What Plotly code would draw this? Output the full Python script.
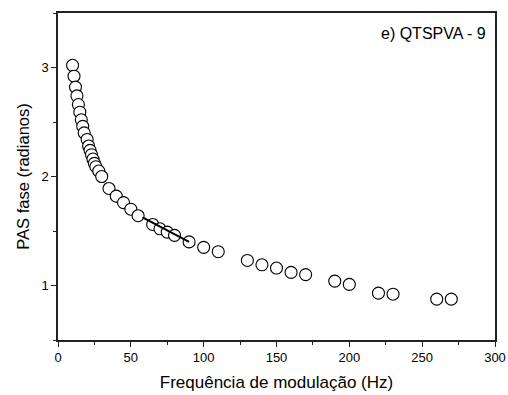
import plotly.graph_objects as go

# Modulation frequency (Hz) and photoacoustic phase (rad)
freq = [10, 11, 12, 13, 14, 15, 16, 17, 18, 20, 21, 22, 23, 24, 25, 26, 28, 30,
        35, 40, 45, 50, 55, 65, 70, 75, 80, 90, 100, 110, 130, 140, 150, 160,
        170, 190, 200, 220, 230, 260, 270]
phase = [3.02, 2.92, 2.82, 2.74, 2.66, 2.59, 2.52, 2.46, 2.40, 2.34, 2.28, 2.24,
         2.20, 2.16, 2.12, 2.09, 2.05, 2.00, 1.89, 1.82, 1.76, 1.70, 1.64, 1.56,
         1.52, 1.49, 1.46, 1.40, 1.35, 1.31, 1.23, 1.19, 1.16, 1.12, 1.10, 1.04,
         1.01, 0.93, 0.92, 0.875, 0.875]

# Linear fit segment over the intermediate frequency region
fit_freq = [58, 90]
fit_phase = [1.625, 1.40]

x_ticks = [0, 50, 100, 150, 200, 250, 300]
y_ticks = [1, 2, 3]

font_family = "Arial, Liberation Sans, sans-serif"

fig = go.Figure()
fig.add_trace(go.Scatter(
    x=freq, y=phase, mode="markers",
    marker=dict(symbol="circle", size=12, color="white",
                line=dict(color="black", width=1.1)),
    showlegend=False,
))
fig.add_trace(go.Scatter(
    x=fit_freq, y=fit_phase, mode="lines",
    line=dict(color="black", width=2), showlegend=False,
))

axis_common = dict(
    showgrid=False, zeroline=False, showline=True, linecolor="#222",
    linewidth=1.5, mirror=True, ticks="outside", ticklen=5, tickwidth=1.2,
    tickcolor="#222", automargin=False,
    tickfont=dict(size=13, color="black", family=font_family),
)

fig.update_xaxes(
    range=[0, 300], tickvals=x_ticks,
    minor=dict(ticks="outside", ticklen=3, tickwidth=1.2, tickcolor="#222", dtick=25),
    title=dict(text="Frequência de modulação (Hz)",
               font=dict(size=17, color="black", family=font_family), standoff=12),
    **axis_common,
)
fig.update_yaxes(
    range=[0.5, 3.5], tickvals=y_ticks,
    minor=dict(ticks="outside", ticklen=3, tickwidth=1.2, tickcolor="#222", dtick=0.5),
    title=dict(text="PAS fase (radianos)",
               font=dict(size=16.5, color="black", family=font_family), standoff=8),
    **axis_common,
)

fig.add_annotation(
    text="e) QTSPVA - 9", xref="paper", yref="paper", x=1, y=1,
    xanchor="right", yanchor="top", xshift=-7, yshift=-10, showarrow=False,
    font=dict(size=16, color="black", family=font_family),
)

fig.update_layout(
    width=508, height=395,
    margin=dict(l=58, r=13, t=13, b=55),
    paper_bgcolor="white", plot_bgcolor="white",
    font=dict(family=font_family, color="black"),
)

fig.write_html("out.html")
